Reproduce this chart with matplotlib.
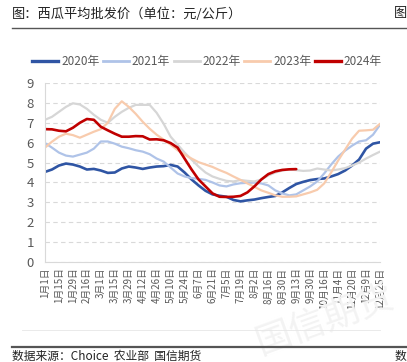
import matplotlib
matplotlib.use("Agg")
import matplotlib.pyplot as plt
from matplotlib.lines import Line2D

plt.rcParams['font.family'] = ['Noto Sans CJK SC', 'DejaVu Sans']

tick_labels = ["1月1日", "1月15日", "1月29日", "2月16日", "3月1日", "3月15日", "3月29日",
               "4月12日", "4月26日", "5月10日", "5月24日", "6月7日", "6月21日", "7月5日",
               "7月19日", "8月2日", "8月16日", "8月30日", "9月13日", "9月30日", "10月16日",
               "11月4日", "11月20日", "12月9日", "12月25日"]

y2020 = [4.53, 4.65, 4.85, 4.95, 4.90, 4.80, 4.65, 4.68, 4.60, 4.48, 4.50, 4.70, 4.80,
         4.75, 4.68, 4.75, 4.80, 4.82, 4.88, 4.80, 4.50, 4.15, 3.85, 3.58, 3.40, 3.33,
         3.28, 3.12, 3.05, 3.10, 3.14, 3.21, 3.27, 3.32, 3.50, 3.72, 3.92, 4.03, 4.12,
         4.17, 4.20, 4.30, 4.42, 4.60, 4.85, 5.15, 5.70, 5.95, 6.02]
y2021 = [5.98, 5.75, 5.50, 5.35, 5.30, 5.40, 5.50, 5.70, 6.06, 6.06, 5.95, 5.80, 5.72,
         5.62, 5.55, 5.42, 5.20, 5.05, 4.75, 4.45, 4.30, 4.22, 4.18, 4.13, 4.00, 3.85,
         3.80, 3.90, 3.96, 3.98, 3.99, 3.95, 3.85, 3.60, 3.45, 3.35, 3.40, 3.60, 3.80,
         4.05, 4.45, 4.90, 5.30, 5.60, 5.85, 6.06, 6.12, 6.40, 6.90]
y2022 = [7.15, 7.30, 7.55, 7.80, 7.98, 7.92, 7.70, 7.40, 7.15, 7.00, 7.30, 7.55, 7.75,
         7.90, 7.90, 7.90, 7.50, 6.95, 6.30, 5.90, 5.50, 5.15, 4.80, 4.50, 4.30, 4.18,
         4.08, 4.05, 4.12, 4.08, 4.05, 4.15, 4.35, 4.50, 4.60, 4.65, 4.62, 4.58, 4.60,
         4.70, 4.65, 4.60, 4.65, 4.72, 4.85, 5.00, 5.20, 5.38, 5.55]
y2023 = [5.75, 6.05, 6.30, 6.45, 6.38, 6.25, 6.40, 6.55, 6.68, 7.00, 7.70, 8.08, 7.80,
         7.45, 7.05, 6.70, 6.40, 6.15, 5.90, 5.62, 5.40, 5.20, 5.02, 4.90, 4.78, 4.62,
         4.48, 4.30, 4.13, 3.95, 3.78, 3.60, 3.48, 3.35, 3.28, 3.28, 3.30, 3.40, 3.50,
         3.63, 3.95, 4.50, 5.10, 5.65, 6.20, 6.60, 6.62, 6.65, 6.95]
y2024 = [6.68, 6.67, 6.60, 6.57, 6.75, 7.00, 7.19, 7.15, 6.80, 6.62, 6.45, 6.30, 6.30,
         6.33, 6.32, 6.16, 6.17, 6.12, 5.98, 5.75, 5.20, 4.65, 4.15, 3.80, 3.45, 3.28,
         3.27, 3.28, 3.32, 3.50, 3.80, 4.15, 4.42, 4.56, 4.63, 4.66, 4.67]

series = [("2020年", y2020, "#2F55A4", 1.9),
          ("2021年", y2021, "#AFC3E8", 1.6),
          ("2022年", y2022, "#D6D6D6", 1.6),
          ("2023年", y2023, "#F8CBAD", 1.6),
          ("2024年", y2024, "#C00000", 1.9)]

fig = plt.figure(figsize=(4.07, 3.62), dpi=100)
fig.patch.set_facecolor("white")

# faint watermark
fig.text(325/407, 1-320/362, "国信期货", fontsize=26, color="#F3F3F3", va="center", ha="center",
         rotation=20, zorder=0)

ax = fig.add_axes([45/407, 1-262/362, (380-45)/407, (262-83)/362])
ax.patch.set_alpha(0)

for name, ys, col, lw in series:
    ax.plot(range(len(ys)), ys, color=col, lw=lw, label=name, solid_capstyle="round")

ax.set_xlim(0, 48)
ax.set_ylim(0, 9)
ax.set_yticks(range(0, 10))
ax.set_xticks(range(0, 49, 2))
ax.set_xticklabels(tick_labels, rotation=90, fontsize=7, color="#595959")
ax.tick_params(axis="y", labelsize=9.5, colors="#595959", length=0, pad=8)
ax.tick_params(axis="x", length=0, pad=4)
ax.grid(axis="y", ls=(0, (4, 3)), color="#D9D9D9", lw=0.8)
ax.set_axisbelow(True)
for s in ["top", "right"]:
    ax.spines[s].set_visible(False)
ax.spines["left"].set_color("#D9D9D9")
ax.spines["bottom"].set_color("#D9D9D9")
ax.spines["left"].set_linewidth(0.8)
ax.spines["bottom"].set_linewidth(0.8)

handles = [Line2D([0], [0], color=c, lw=2.4 if n in ("2020年", "2024年") else 2.0) for n, _, c, _ in series]
fig.legend(handles, [s[0] for s in series], loc="center", bbox_to_anchor=(207/407, 1-62/362),
           ncol=5, frameon=False, fontsize=8.5, handlelength=2.2, handletextpad=0.25,
           columnspacing=0.3, labelcolor="#595959")

# title and frame lines
fig.text(12/407, 1-14/362, "图：西瓜平均批发价（单位：元/公斤）", fontsize=9.5, color="#222222",
         va="center", ha="left")
fig.text(394/407, 1-14/362, "图", fontsize=9.5, color="#222222", va="center", ha="left")
fig.add_artist(Line2D([12/407, 1], [1-28/362, 1-28/362], color="#555555", lw=1.0))
fig.add_artist(Line2D([22/407, 380/407], [1-330/362, 1-330/362], color="#E6E6E6", lw=0.6))
fig.add_artist(Line2D([12/407, 1], [1-347/362, 1-347/362], color="#555555", lw=1.6))
fig.text(12/407, 1-356/362, "数据来源：Choice  农业部  国信期货", fontsize=8.5, color="#222222",
         va="center", ha="left")
fig.text(395/407, 1-356/362, "数", fontsize=8.5, color="#222222", va="center", ha="left")

fig.savefig("out.png", dpi=100)
